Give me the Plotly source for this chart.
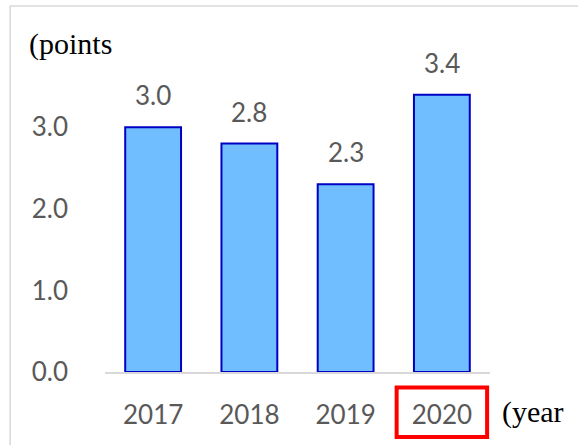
import plotly.graph_objects as go

# Chart data
years = ["2017", "2018", "2019", "2020"]
points = [3.0, 2.8, 2.3, 3.4]
value_labels = ["3.0", "2.8", "2.3", "3.4"]
y_ticks = [0, 1, 2, 3]
y_tick_labels = ["0.0", "1.0", "2.0", "3.0"]
highlight_year = "2020"

TEXT_GREY = "#595959"
NUM_FONT = "Lato"
SERIF_FONT = "Liberation Serif"

pos = list(range(len(years)))

fig = go.Figure()
fig.add_trace(go.Bar(
    x=pos,
    y=points,
    marker=dict(color="#70BEFF", line=dict(color="#0000C4", width=2)),
    hoverinfo="skip",
))

# value labels above each bar
for i, v, lab in zip(pos, points, value_labels):
    fig.add_annotation(
        x=i, y=v, text=lab, showarrow=False,
        yanchor="bottom", yshift=14,
        font=dict(family=NUM_FONT, size=26, color=TEXT_GREY),
    )

# axis unit captions
fig.add_annotation(
    xref="paper", yref="paper", x=-0.202, y=1.058,
    text="(points", showarrow=False, xanchor="left", yanchor="middle",
    font=dict(family=SERIF_FONT, size=30, color="black"),
)
fig.add_annotation(
    xref="paper", yref="paper", x=1.025, y=-0.13,
    text="(year", showarrow=False, xanchor="left", yanchor="middle",
    font=dict(family=SERIF_FONT, size=30, color="black"),
)

hi = years.index(highlight_year)
shapes = [
    # highlight box around the latest year label
    dict(type="rect", xref="x", yref="paper",
         x0=hi - 0.47, x1=hi + 0.47, y0=-0.21, y1=-0.05,
         line=dict(color="#FF0000", width=4)),
    # chart frame
    dict(type="rect", xref="paper", yref="paper",
         x0=-0.2464, x1=2, y0=-2, y1=1.1806,
         line=dict(color="#D9D9D9", width=1.5), layer="below"),
]

fig.update_layout(
    width=578, height=445,
    margin=dict(l=105, r=87.5, t=62, b=73, pad=0),
    plot_bgcolor="white", paper_bgcolor="white",
    showlegend=False,
    bargap=0.42,
    shapes=shapes,
    xaxis=dict(
        range=[-0.5, len(years) - 0.5],
        tickvals=pos, ticktext=years,
        showline=True, linecolor="#D9D9D9", linewidth=1.5,
        showgrid=False, zeroline=False, ticks="",
        tickfont=dict(family=NUM_FONT, size=26, color=TEXT_GREY),
        ticklabelstandoff=19,
    ),
    yaxis=dict(
        range=[0, 3.8],
        tickvals=y_ticks, ticktext=y_tick_labels,
        showline=False, showgrid=False, zeroline=False, ticks="",
        tickfont=dict(family=NUM_FONT, size=26, color=TEXT_GREY),
        ticklabelstandoff=36,
    ),
)

fig.write_html("out.html")
